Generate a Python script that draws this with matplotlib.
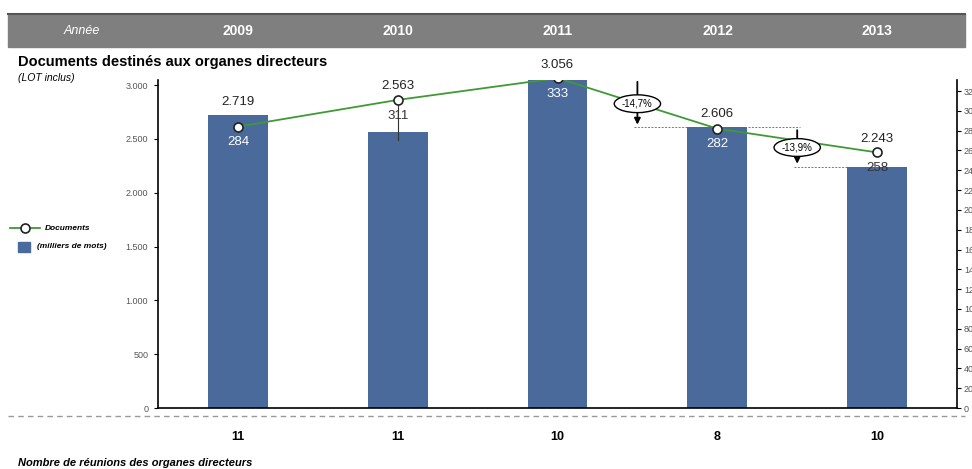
import matplotlib
matplotlib.use("Agg")
import matplotlib.pyplot as plt
from matplotlib.patches import Rectangle, Ellipse
from matplotlib.lines import Line2D

plt.rcParams['font.family'] = ['Liberation Sans', 'DejaVu Sans']

# données
annees = ['2009', '2010', '2011', '2012', '2013']
mots = [2719, 2563, 3056, 2606, 2243]        # milliers de mots (barres)
documents = [284, 311, 333, 282, 258]         # nombre de documents (ligne)
reunions = [11, 11, 10, 8, 10]                # nombre de réunions
left_ticks = [0, 500, 1000, 1500, 2000, 2500, 3000]
right_ticks = list(range(0, 321, 20))

BLEU = '#4a6a9b'
VERT = '#3f9a35'
GRIS = '#7f7f7f'

W, H = 972, 469
fig = plt.figure(figsize=(W / 100, H / 100), dpi=100)


def fx(px):
    return px / W


def fy(py):
    return 1 - py / H


# bandeau du haut
fig.add_artist(Line2D([fx(8), fx(965)], [fy(14), fy(14)], color='#555555', lw=1.5))
fig.add_artist(Rectangle((fx(8), fy(47)), fx(957), 33 / H, color=GRIS, transform=fig.transFigure))
fig.text(fx(82), fy(31), 'Année', color='white', style='italic', fontsize=9, ha='center', va='center')

fig.text(fx(18), fy(62), 'Documents destinés aux organes directeurs', fontsize=10.5, fontweight='bold',
         ha='left', va='center')
fig.text(fx(18), fy(78), '(LOT inclus)', fontsize=7.5, style='italic', ha='left', va='center')

# axes
ax = fig.add_axes([fx(158), fy(408), fx(957 - 158), (408 - 80) / H])
ax2 = ax.twinx()
ymax_l = 3000 * 328 / 323
ymax_r = 320 * 328 / 317
ax.set_ylim(0, ymax_l)
ax2.set_ylim(0, ymax_r)
ax.set_xlim(-0.5, 4.5)
k = ymax_l / ymax_r

x = list(range(len(annees)))
ax.bar(x, mots, width=0.375, color=BLEU, zorder=2)
ax.plot(x, [d * k for d in documents], color=VERT, lw=1.3, zorder=3)
ax.plot(x, [d * k for d in documents], 'o', ms=6.5, mfc='white', mec='#222222', mew=1.2, zorder=4)

for i, (m, d) in enumerate(zip(mots, documents)):
    yd = d * k
    top = max(m, yd)
    ax.text(i, top + 70, f'{m / 1000:.3f}', fontsize=9.5, ha='center', va='bottom', color='#222222', zorder=5)
    ylab = yd - 90
    col = 'white' if ylab + 60 < m else '#333333'
    ax.text(i, ylab, str(d), fontsize=9.5, ha='center', va='top', color=col, zorder=5)
    if yd > m + 150:
        ax.plot([i, i], [yd, m - 70], color='#333333', lw=0.8, zorder=3)
    # année dans le bandeau
    fig.text(fx(238 + 159.8 * i), fy(31), annees[i], color='white', fontweight='bold', fontsize=10,
             ha='center', va='center')
    fig.text(fx(238 + 159.8 * i), fy(437), str(reunions[i]), fontweight='bold', fontsize=9,
             ha='center', va='center')

# variations
for i in (2, 3):
    a, b = mots[i], mots[i + 1]
    xm = i + 0.5
    ax.plot([i + 0.19, xm + 0.02], [a, a], color='#777777', lw=0.7, ls=(0, (2, 1.5)), zorder=3)
    ax.plot([xm - 0.02, i + 1 - 0.19], [b, b], color='#777777', lw=0.7, ls=(0, (2, 1.5)), zorder=3)
    ax.annotate('', xy=(xm, b), xytext=(xm, a),
                arrowprops=dict(arrowstyle='-|>', color='black', lw=1.3, mutation_scale=9), zorder=4)
    ym = (a + b) / 2 - 5
    ax.add_patch(Ellipse((xm, ym), 0.29, 165, facecolor='white', edgecolor='black', lw=1, zorder=5))
    pct = (b - a) / a * 100
    ax.text(xm, ym, f'{pct:.1f}%'.replace('.', ','), fontsize=7, ha='center', va='center', zorder=6)

for a_ in (ax, ax2):
    a_.spines['top'].set_visible(False)
ax.spines['right'].set_visible(False)
ax2.spines['left'].set_visible(False)
ax2.spines['bottom'].set_visible(False)
ax.set_xticks([])
ax.set_yticks(left_ticks)
ax.set_yticklabels([f'{t:,}'.replace(',', '.') for t in left_ticks])
ax2.set_yticks(right_ticks)
ax.tick_params(axis='y', direction='out', length=3, labelsize=6.5, labelcolor='#555555', pad=4)
ax2.tick_params(axis='y', direction='out', length=3, labelsize=6.5, labelcolor='#555555', pad=2)
for a_ in (ax, ax2):
    for s in a_.spines.values():
        s.set_linewidth(1.2)

# ligne pointillée du bas
fig.add_artist(Line2D([fx(8), fx(965)], [fy(416), fy(416)], color='#999999', lw=1, ls=(0, (4, 3))))
fig.text(fx(18), fy(463), 'Nombre de réunions des organes directeurs', fontsize=8, fontweight='bold',
         style='italic', ha='left', va='center')

# légende
fig.add_artist(Line2D([fx(10), fx(40)], [fy(228), fy(228)], color=VERT, lw=1.3))
fig.add_artist(Line2D([fx(25)], [fy(228)], marker='o', ms=6.5, mfc='white', mec='#222222', mew=1.2))
fig.text(fx(45), fy(228), 'Documents', fontsize=6, style='italic', fontweight='bold', va='center')
fig.add_artist(Rectangle((fx(18), fy(252)), 12 / W, 10 / H, color=BLEU, transform=fig.transFigure))
fig.text(fx(37), fy(247), '(milliers de mots)', fontsize=6, style='italic', fontweight='bold', va='center')

fig.savefig('out.png', dpi=100)
